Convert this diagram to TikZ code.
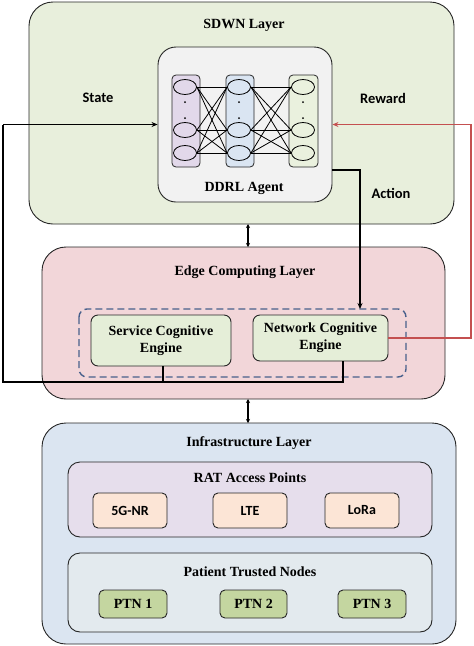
\documentclass[tikz,border=0pt]{standalone}
\usepackage{fontspec}
\setmainfont{Liberation Serif}
\newfontfamily\carlitofont{Carlito}
\usetikzlibrary{arrows.meta,shapes.geometric,calc}
\definecolor{sdwn}{RGB}{232,239,220}
\definecolor{edge}{RGB}{242,214,217}
\definecolor{infra}{RGB}{219,229,241}
\definecolor{ratc}{RGB}{230,222,236}
\definecolor{ptnbg}{RGB}{227,234,238}
\definecolor{peach}{RGB}{252,229,214}
\definecolor{ptnc}{RGB}{196,214,160}
\definecolor{eng}{RGB}{229,238,216}
\definecolor{agent}{RGB}{242,242,242}
\definecolor{colA}{RGB}{226,216,234}
\definecolor{colB}{RGB}{218,229,242}
\definecolor{colC}{RGB}{234,241,222}
\definecolor{redl}{RGB}{196,80,80}
\definecolor{dashc}{RGB}{72,96,140}
\tikzset{
  layer/.style={draw=black!85,line width=0.9pt,rounded corners=24pt},
  inner/.style={draw=black!85,line width=0.9pt,rounded corners=10pt},
  smallbox/.style={draw=black!85,line width=0.9pt,rounded corners=5pt,font=\carlitofont\bfseries\fontsize{14}{16}\selectfont,minimum width=74pt,minimum height=35pt},
  ptnbox/.style={draw=black!85,line width=0.9pt,rounded corners=5pt,fill=ptnc,font=\bfseries\fontsize{14}{16}\selectfont,minimum height=28pt,inner sep=0pt},
  colbox/.style={draw=black!85,line width=0.8pt,rounded corners=4pt},
  neuron/.style={draw=black,line width=0.8pt,ellipse,minimum width=23pt,minimum height=15pt,inner sep=0pt},
  title/.style={font=\bfseries\fontsize{14}{16}\selectfont},
  lbl/.style={font=\carlitofont\bfseries\fontsize{14.5}{16}\selectfont},
  conn/.style={line width=1.7pt},
  tip/.style={-{Stealth[length=6pt,width=5pt]}},
  dbl/.style={{Stealth[length=4pt,width=4pt]}-{Stealth[length=4pt,width=4pt]},line width=1.5pt},
}
\begin{document}
\begin{tikzpicture}[x=1pt,y=-1pt]
\useasboundingbox (0,0) rectangle (474,646);
% SDWN layer
\draw[layer,fill=sdwn] (29,2) rectangle (454,224);
\node[title] (sdwnt) at (244,25) {SDWN Layer};
% DDRL agent
\node[inner,fill=agent,minimum width=174pt,minimum height=155pt,rounded corners=18pt] (agent) at (245,124.5) {};
\node[title] (agentt) at (244,188) {DDRL Agent};
\draw[colbox,fill=colA] (172,75) rectangle (200,167);
\draw[colbox,fill=colB] (226,75) rectangle (254,167);
\draw[colbox,fill=colC] (289,75) rectangle (318,167);
\foreach \c/\x in {1/185,2/239,3/303}{
  \node[neuron] (n\c a) at (\x,87) {};
  \node[neuron] (n\c b) at (\x,130) {};
  \node[neuron] (n\c c) at (\x,153) {};
  \fill (\x,102) circle (1);
  \fill (\x,118) circle (1);
}
\foreach \s in {a,b,c}{
  \foreach \t in {a,b,c}{
    \draw[line width=0.8pt] (n1\s.east) -- (n2\t.west);
    \draw[line width=0.8pt] (n2\s.east) -- (n3\t.west);
  }
}
\node[lbl] (state) at (98,98) {State};
\node[lbl] (reward) at (383,98) {Reward};
\node[lbl] (action) at (391,193) {Action};
% Edge layer
\draw[layer,fill=edge] (42,247) rectangle (445,399);
\node[title] (edget) at (245,272) {Edge Computing Layer};
\draw[dashc,line width=1.4pt,rounded corners=8pt,dash pattern=on 7pt off 4pt] (79,309) rectangle (406,377);
\node[inner,fill=eng,rounded corners=7pt,minimum width=140pt,minimum height=51pt,align=center,inner sep=0pt,font=\bfseries\fontsize{14}{17}\selectfont] (sce) at (161,340.5) {Service Cognitive\\Engine};
\node[inner,fill=eng,rounded corners=7pt,minimum width=135pt,minimum height=46pt,align=center,inner sep=0pt,font=\bfseries\fontsize{14}{17}\selectfont] (nce) at (320.5,338) {Network Cognitive\\Engine};
\coordinate (dashtop) at (360,309);
% Infrastructure layer
\draw[layer,fill=infra] (42,423) rectangle (456,644);
\node[title] (inft) at (249,443) {Infrastructure Layer};
\draw[inner,fill=ratc,rounded corners=12pt] (68,462) rectangle (432,537);
\node[title] (ratt) at (250,478) {RAT Access Points};
\node[smallbox,fill=peach] (g5) at (130,510.5) {5G-NR};
\node[smallbox,fill=peach] (lte) at (250,510.5) {LTE};
\node[smallbox,fill=peach] (lora) at (362,510.5) {LoRa};
\draw[inner,fill=ptnbg,rounded corners=12pt] (68,553) rectangle (432,632);
\node[title] (ptnt) at (250,572) {Patient Trusted Nodes};
\node[ptnbox,minimum width=68pt] (p1) at (133,604) {PTN 1};
\node[ptnbox,minimum width=67pt] (p2) at (253.5,604) {PTN 2};
\node[ptnbox,minimum width=68pt] (p3) at (372,604) {PTN 3};
% double arrows between layers
\coordinate (s1) at (248,224);
\coordinate (e1) at (248,247);
\coordinate (e2) at (248,399);
\coordinate (i1) at (248,423);
\draw[dbl] (s1) -- (e1);
\draw[dbl] (e2) -- (i1);
% state feedback loop
\coordinate (lb) at (3,382);
\coordinate (lt) at (3,124.5);
\coordinate (sj) at (163,382);
\coordinate (nj) at (343,382);
\draw[conn] ($(sce.south)+(2,0)$) -- (sj);
\draw[conn] ($(nce.south)+(22.5,0)$) -- (nj) -- (lb) -- (lt);
\draw[conn,tip] (lt) -- (agent.west);
% action
\coordinate (ac) at (360,170);
\draw[conn,tip] ($(agent.east)+(0,45.5)$) -- (ac) -- (dashtop);
% reward
\coordinate (r1) at (471,338);
\coordinate (r2) at (471,124.5);
\draw[conn,redl,tip] (nce.east) -- (r1) -- (r2) -- (agent.east);
\end{tikzpicture}
\end{document}
